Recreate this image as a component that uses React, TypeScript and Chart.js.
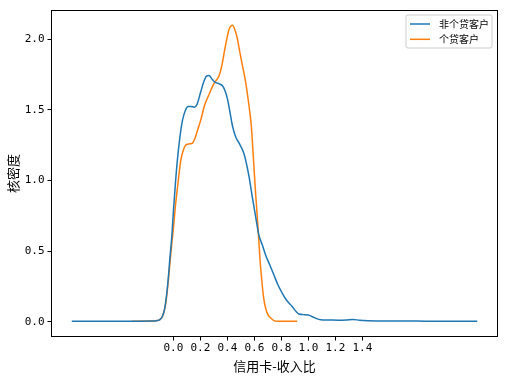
import React, { useEffect, useRef } from "react";
import { Chart, registerables } from "chart.js";

Chart.register(...registerables);

const seriesNames = ["非个贷客户", "个贷客户"];
const seriesColors = ["#1f77b4", "#ff7f0e"];

const blueX = [
  -0.753, -0.5, -0.3, -0.15, -0.12, -0.1, -0.08, -0.065, -0.048, -0.035, -0.026, -0.012,
  0.0, 0.015, 0.03, 0.05, 0.068, 0.09, 0.11, 0.13, 0.155, 0.175, 0.2, 0.225, 0.245, 0.264,
  0.285, 0.31, 0.34, 0.365, 0.385, 0.4, 0.42, 0.437, 0.461, 0.49, 0.523, 0.56, 0.584, 0.61,
  0.633, 0.66, 0.683, 0.715, 0.744, 0.775, 0.806, 0.84, 0.88, 0.91, 0.93, 0.96, 1.0, 1.03,
  1.06, 1.09, 1.15, 1.22, 1.28, 1.33, 1.38, 1.45, 1.6, 1.8, 2.0, 2.251,
];
const blueY = [
  0.003, 0.003, 0.003, 0.004, 0.008, 0.015, 0.04, 0.09, 0.21, 0.34, 0.45, 0.6,
  0.78, 0.98, 1.15, 1.32, 1.43, 1.5, 1.525, 1.525, 1.52, 1.54, 1.62, 1.7, 1.74, 1.745,
  1.72, 1.695, 1.685, 1.67, 1.63, 1.58, 1.48, 1.39, 1.31, 1.26, 1.19, 1.03, 0.886, 0.74,
  0.615, 0.54, 0.473, 0.4, 0.332, 0.26, 0.203, 0.15, 0.108, 0.07, 0.054, 0.05, 0.048, 0.035,
  0.022, 0.014, 0.012, 0.01, 0.012, 0.016, 0.01, 0.007, 0.005, 0.004, 0.003, 0.003,
];

const orangeX = [
  -0.31, -0.15, -0.12, -0.1, -0.08, -0.06, -0.045, -0.025, -0.01, 0.0, 0.015, 0.031, 0.055,
  0.075, 0.095, 0.12, 0.142, 0.16, 0.18, 0.203, 0.23, 0.264, 0.3, 0.339, 0.36, 0.375, 0.395,
  0.412, 0.437, 0.455, 0.474, 0.49, 0.511, 0.535, 0.56, 0.577, 0.592, 0.609, 0.626, 0.641,
  0.658, 0.67, 0.683, 0.7, 0.72, 0.745, 0.77, 0.85, 0.917,
];
const orangeY = [
  0.003, 0.004, 0.008, 0.015, 0.04, 0.11, 0.22, 0.42, 0.57, 0.66, 0.82, 0.956, 1.145,
  1.22, 1.255, 1.26, 1.265, 1.3, 1.36, 1.43, 1.53, 1.61, 1.687, 1.745, 1.82, 1.9, 2.0,
  2.07, 2.1, 2.07, 2.005, 1.92, 1.816, 1.7, 1.53, 1.39, 1.17, 0.91, 0.68, 0.45,
  0.26, 0.16, 0.097, 0.05, 0.026, 0.008, 0.003, 0.003, 0.003,
];

const xTickValues = [0, 0.2, 0.4, 0.6, 0.8, 1.0, 1.2, 1.4];
const yTickValues = [0, 0.5, 1.0, 1.5, 2.0];
const xTitle = "信用卡-收入比";
const yTitle = "核密度";

const FONT = "'Noto Sans CJK SC', 'DejaVu Sans', sans-serif";
const TICK_FONT = "'DejaVu Sans Mono', 'Liberation Mono', monospace";

const framePlugin = {
  id: "frame",
  afterDraw(chart: any) {
    const { ctx, chartArea } = chart;
    ctx.save();
    ctx.strokeStyle = "#000";
    ctx.lineWidth = 1;
    ctx.strokeRect(chartArea.left, chartArea.top, chartArea.right - chartArea.left, chartArea.bottom - chartArea.top);
    ctx.restore();
  },
};

const legendPlugin = {
  id: "mplLegend",
  afterDraw(chart: any) {
    const { ctx, chartArea } = chart;
    const boxRight = chartArea.right - 5.5;
    const boxLeft = boxRight - 86;
    const boxTop = chartArea.top + 4.5;
    const boxH = 33;
    ctx.save();
    ctx.fillStyle = "rgba(255,255,255,0.8)";
    ctx.strokeStyle = "#cccccc";
    ctx.lineWidth = 1;
    const r = 2;
    ctx.beginPath();
    ctx.moveTo(boxLeft + r, boxTop);
    ctx.lineTo(boxRight - r, boxTop);
    ctx.quadraticCurveTo(boxRight, boxTop, boxRight, boxTop + r);
    ctx.lineTo(boxRight, boxTop + boxH - r);
    ctx.quadraticCurveTo(boxRight, boxTop + boxH, boxRight - r, boxTop + boxH);
    ctx.lineTo(boxLeft + r, boxTop + boxH);
    ctx.quadraticCurveTo(boxLeft, boxTop + boxH, boxLeft, boxTop + boxH - r);
    ctx.lineTo(boxLeft, boxTop + r);
    ctx.quadraticCurveTo(boxLeft, boxTop, boxLeft + r, boxTop);
    ctx.closePath();
    ctx.fill();
    ctx.stroke();
    chart.data.datasets.forEach((ds: any, i: number) => {
      const y = boxTop + 9 + i * 15.3;
      ctx.strokeStyle = ds.borderColor;
      ctx.lineWidth = 1.5;
      ctx.beginPath();
      ctx.moveTo(boxLeft + 4, y);
      ctx.lineTo(boxLeft + 24, y);
      ctx.stroke();
      ctx.fillStyle = "#000";
      ctx.font = `10px ${FONT}`;
      ctx.textBaseline = "middle";
      ctx.textAlign = "left";
      ctx.fillText(ds.label, boxLeft + 33, y);
    });
    ctx.restore();
  },
};

export default function App() {
  const canvasRef = useRef<HTMLCanvasElement | null>(null);

  useEffect(() => {
    if (!canvasRef.current) return;
    const toPts = (xs: number[], ys: number[]) => xs.map((x, i) => ({ x, y: ys[i] }));
    const chart = new Chart(canvasRef.current, {
      type: "line",
      data: {
        datasets: [
          {
            label: seriesNames[0],
            data: toPts(blueX, blueY),
            borderColor: seriesColors[0],
            backgroundColor: seriesColors[0],
            borderWidth: 1.5,
            pointRadius: 0,
            cubicInterpolationMode: "monotone",
            fill: false,
          },
          {
            label: seriesNames[1],
            data: toPts(orangeX, orangeY),
            borderColor: seriesColors[1],
            backgroundColor: seriesColors[1],
            borderWidth: 1.5,
            pointRadius: 0,
            cubicInterpolationMode: "monotone",
            fill: false,
          },
        ],
      },
      options: {
        responsive: false,
        animation: false,
        devicePixelRatio: 1,
        layout: { padding: { left: 0, right: 9.5, top: 10.5, bottom: 0 } },
        plugins: { legend: { display: false }, tooltip: { enabled: false } },
        scales: {
          x: {
            type: "linear",
            min: -0.903,
            max: 2.401,
            afterFit: (s: any) => {
              s.height = 41.5;
            },
            afterBuildTicks: (s: any) => {
              s.ticks = xTickValues.map((v) => ({ value: v }));
            },
            border: { display: false },
            grid: { display: true, drawOnChartArea: false, drawTicks: true, tickLength: 4, color: "#000", lineWidth: 1 },
            ticks: {
              color: "#000",
              padding: 1,
              maxRotation: 0,
              autoSkip: false,
              font: { family: TICK_FONT, size: 11 },
              callback: (v: any) => Number(v).toFixed(1),
            },
            title: {
              display: true,
              text: xTitle,
              color: "#000",
              font: { family: FONT, size: 13 },
              padding: { top: 0, bottom: 4.6 },
            },
          },
          y: {
            type: "linear",
            min: -0.105,
            max: 2.205,
            afterFit: (s: any) => {
              s.width = 51.5;
            },
            afterBuildTicks: (s: any) => {
              s.ticks = yTickValues.map((v) => ({ value: v }));
            },
            border: { display: false },
            grid: { display: true, drawOnChartArea: false, drawTicks: true, tickLength: 4, color: "#000", lineWidth: 1 },
            ticks: {
              color: "#000",
              padding: 3,
              autoSkip: false,
              font: { family: TICK_FONT, size: 11 },
              callback: (v: any) => Number(v).toFixed(1),
            },
            title: {
              display: true,
              text: yTitle,
              color: "#000",
              font: { family: FONT, size: 13 },
              padding: { top: 5.6, bottom: 0 },
            },
          },
        },
      },
      plugins: [framePlugin, legendPlugin],
    } as any);
    return () => chart.destroy();
  }, []);

  return (
    <div style={{ position: "fixed", left: 0, top: 0, width: 507, height: 378, background: "#fff" }}>
      <canvas ref={canvasRef} width={507} height={378} />
    </div>
  );
}
